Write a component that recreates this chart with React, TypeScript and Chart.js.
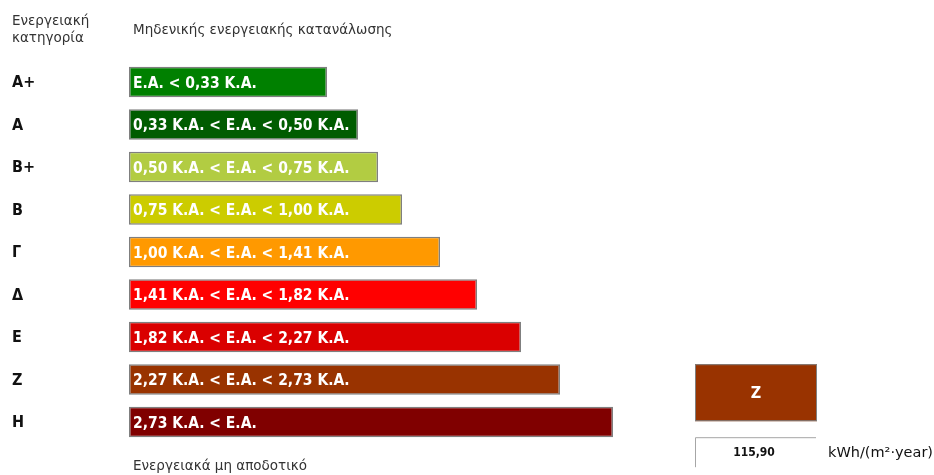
import React, { useEffect, useRef } from "react";
import { Chart, registerables } from "chart.js";

Chart.register(...registerables);

// Energy classes, top (best) to bottom (worst)
const categories = ["Α+", "Α", "Β+", "Β", "Γ", "Δ", "Ε", "Ζ", "Η"];
// Range text shown inside each class bar
const rangeLabels = [
  "Ε.Α. < 0,33 Κ.Α.",
  "0,33 Κ.Α. < Ε.Α. < 0,50 Κ.Α.",
  "0,50 Κ.Α. < Ε.Α. < 0,75 Κ.Α.",
  "0,75 Κ.Α. < Ε.Α. < 1,00 Κ.Α.",
  "1,00 Κ.Α. < Ε.Α. < 1,41 Κ.Α.",
  "1,41 Κ.Α. < Ε.Α. < 1,82 Κ.Α.",
  "1,82 Κ.Α. < Ε.Α. < 2,27 Κ.Α.",
  "2,27 Κ.Α. < Ε.Α. < 2,73 Κ.Α.",
  "2,73 Κ.Α. < Ε.Α.",
];
// Bar lengths (arrow-scale units)
const barLengths = [198, 229, 249, 273, 311, 348, 392, 431, 484];
const barColors = [
  "#008000",
  "#005c00",
  "#b2cc42",
  "#cccc00",
  "#ff9900",
  "#ff0000",
  "#da0000",
  "#993300",
  "#800000",
];
// Building result
const ratedClass = "Ζ";
const consumption = 115.9;
const unitLabel = "kWh/(m²·year)";
const headerClass = ["Ενεργειακή", "κατηγορία"];
const headerTop = "Μηδενικής ενεργειακής κατανάλωσης";
const footerBottom = "Ενεργειακά μη αποδοτικό";

const W = 934;
const H = 475;

const labelFont = "bold 15.5px 'DejaVu Sans Condensed'";
const classFont = "bold 16px 'DejaVu Sans Condensed'";
const smallFont = "13.5px 'DejaVu Sans'";
const valueFont = "bold 12px 'DejaVu Sans Condensed'";
const unitFont = "14.5px 'DejaVu Sans'";
const boxFont = "bold 16px 'DejaVu Sans Condensed'";

const overlayPlugin = {
  id: "energyOverlay",
  afterDatasetsDraw(chart: any) {
    const { ctx } = chart;
    const yScale = chart.scales.y;
    const meta = chart.getDatasetMeta(0);
    ctx.save();

    // text inside each bar
    ctx.font = labelFont;
    ctx.fillStyle = "#ffffff";
    ctx.textAlign = "left";
    ctx.textBaseline = "middle";
    meta.data.forEach((bar: any, i: number) => {
      ctx.fillText(rangeLabels[i], bar.base + 4, bar.y + 1.5);
    });

    // class letters on the left
    ctx.font = classFont;
    ctx.fillStyle = "#111111";
    categories.forEach((c, i) => {
      ctx.fillText(c, 12, yScale.getPixelForValue(i) + 1);
    });

    // headers
    ctx.font = smallFont;
    ctx.fillStyle = "#333333";
    ctx.fillText(headerClass[0], 12, 21);
    ctx.fillText(headerClass[1], 12, 38);
    ctx.fillText(headerTop, 133, 30);
    ctx.fillText(footerBottom, 133, 466);

    // rated class box
    const idx = categories.indexOf(ratedClass);
    const ratedBar: any = meta.data[idx];
    const boxTop = ratedBar.y - ratedBar.height / 2;
    const boxX = 695;
    const boxW = 122;
    const boxH = 57;
    ctx.fillStyle = barColors[idx];
    ctx.fillRect(boxX, boxTop, boxW, boxH);
    ctx.strokeStyle = "#7f7f7f";
    ctx.lineWidth = 1;
    ctx.strokeRect(boxX + 0.5, boxTop + 0.5, boxW - 1, boxH - 1);
    ctx.font = boxFont;
    ctx.fillStyle = "#ffffff";
    ctx.textAlign = "center";
    ctx.fillText(ratedClass, boxX + boxW / 2, boxTop + boxH / 2 + 1);

    // consumption value cell
    const cellTop = boxTop + boxH + 16;
    ctx.strokeStyle = "#a6a6a6";
    ctx.beginPath();
    ctx.moveTo(boxX + 0.5, cellTop + 30);
    ctx.lineTo(boxX + 0.5, cellTop + 0.5);
    ctx.lineTo(boxX + boxW - 1, cellTop + 0.5);
    ctx.stroke();
    ctx.font = valueFont;
    ctx.fillStyle = "#111111";
    ctx.fillText(
      consumption.toFixed(2).replace(".", ","),
      boxX + boxW / 2 - 2,
      cellTop + 16
    );
    ctx.textAlign = "left";
    ctx.font = unitFont;
    ctx.fillText(unitLabel, 828, cellTop + 16);

    ctx.restore();
  },
};

export default function App() {
  const ref = useRef<HTMLCanvasElement>(null);

  useEffect(() => {
    if (!ref.current) return;
    const chart = new Chart(ref.current, {
      type: "bar",
      data: {
        labels: categories,
        datasets: [
          {
            data: barLengths,
            backgroundColor: barColors,
            borderColor: "#7f7f7f",
            borderWidth: 1.5,
            borderSkipped: false,
            categoryPercentage: 1,
            barPercentage: 0.72,
          },
        ],
      },
      options: {
        indexAxis: "y",
        animation: false,
        responsive: false,
        events: [],
        layout: {
          padding: { left: 129, right: 5, top: 60.75, bottom: 31.75 },
        },
        plugins: {
          legend: { display: false },
          tooltip: { enabled: false },
          title: { display: false },
        },
        scales: {
          x: { display: false, min: 0, max: 800 },
          y: { display: false },
        },
      },
      plugins: [overlayPlugin],
    });
    return () => chart.destroy();
  }, []);

  return (
    <div style={{ position: "fixed", left: 0, top: 0, width: W, height: H, background: "#fff" }}>
      <canvas ref={ref} width={W} height={H} style={{ width: W, height: H }} />
    </div>
  );
}
